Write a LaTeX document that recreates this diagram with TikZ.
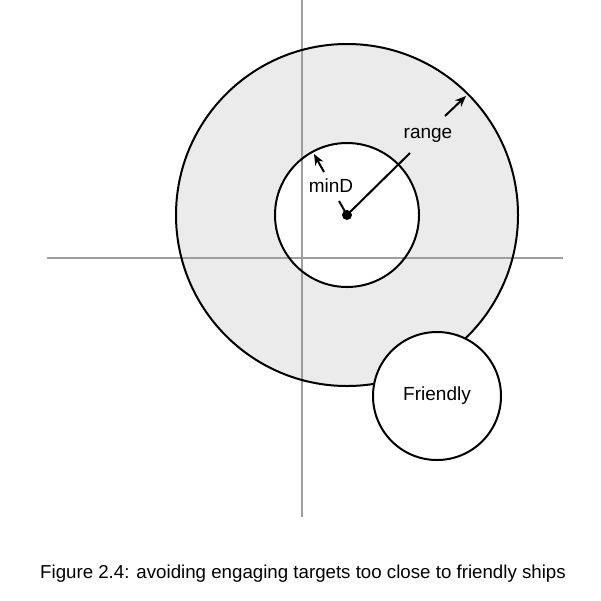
\documentclass[tikz,border=0pt]{standalone}
\usepackage{fontspec}
\setmainfont{Liberation Sans}
\usetikzlibrary{positioning,arrows.meta}
\definecolor{ringgray}{gray}{0.92}
\definecolor{axisgray}{gray}{0.62}

\begin{document}
\begin{tikzpicture}[x=1pt,y=-1pt,font=\fontsize{19}{22}\selectfont,
    ring/.style={line width=2pt},
    tip/.style={-{Stealth[length=11pt,width=9pt]},line width=2pt}]
    \useasboundingbox (0,0) rectangle (601,600);
    \def\R{171pt}
    \def\r{72pt}
    \coordinate (c) at (347,215);
    % ring between minD and range
    \fill[ringgray] (c) circle (\R);
    \fill[white] (c) circle (\r);
    % axes
    \draw[axisgray, line width=1.5pt] (302,0) -- (302,517);
    \draw[axisgray, line width=1.5pt] (47,258) -- (563,258);
    \draw[ring] (c) circle (\R);
    \draw[ring] (c) circle (\r);
    \node[circle, draw, ring, fill=white, minimum size=128pt, inner sep=0pt] (friend) at (437,396) {Friendly};
    \node[circle, fill, inner sep=0pt, minimum size=10pt] (dot) at (c) {};
    % range
    \coordinate (rangeend) at (410,153);
    \coordinate (rangefrom) at (445,116);
    \coordinate (rangeto) at (466,96);
    \node (rangelbl) at (428,135) {range};
    \draw[ring] (dot.center) -- (rangeend);
    \draw[tip] (rangefrom) -- (rangeto);
    % minD
    \coordinate (minend) at (339,201);
    \coordinate (minfrom) at (324,172);
    \coordinate (minto) at (314,154);
    \node (minlbl) at (331,186) {minD};
    \draw[ring] (dot.center) -- (minend);
    \draw[tip] (minfrom) -- (minto);
    \node[font=\fontsize{18.7}{22}\selectfont] (caption) at (303,574) {Figure 2.4: avoiding engaging targets too close to friendly ships};
\end{tikzpicture}
\end{document}
